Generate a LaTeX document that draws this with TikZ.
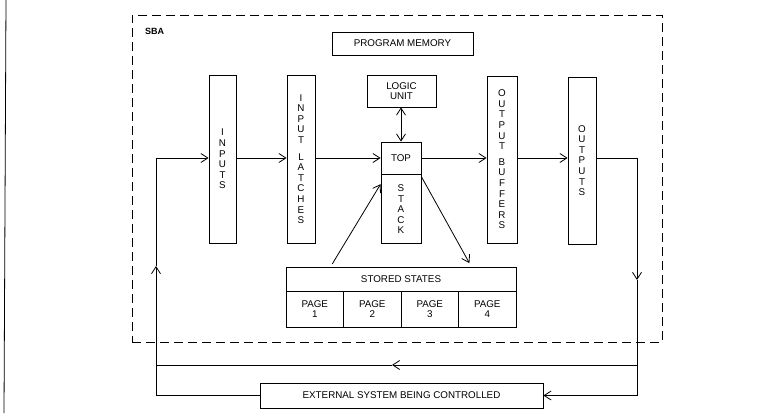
\documentclass[tikz,border=0pt]{standalone}
\usepackage{fontspec}
\setmainfont{Liberation Sans}
\usetikzlibrary{arrows.meta}

\begin{document}
\begin{tikzpicture}[x=1pt, y=-1pt,
  font=\fontsize{9.8}{10.6}\selectfont,
  box/.style = {draw, line width=0.8pt, align=center, inner sep=0pt},
  col/.style = {box, minimum height=168pt},
  arr/.style = {-{Straight Barb[length=7pt,width=9pt]}, line width=0.8pt},
  dbl/.style = {{Straight Barb[length=7pt,width=9pt]}-{Straight Barb[length=7pt,width=9pt]}, line width=0.8pt},
  ln/.style = {line width=0.8pt},
]
\useasboundingbox (0,0) rectangle (774,413);

% page edge of the scan
\draw[ln] (6,0) -- (4,413);

% SBA frame
\node[draw, line width=0.8pt, dash pattern=on 9pt off 5pt,
      minimum width=530pt, minimum height=327pt] at (397,178.5) (sba) {};
\node[font=\fontsize{9}{10}\selectfont\bfseries, anchor=west, inner sep=0pt] at (145,31) (sbalbl) {SBA};

\node[box, minimum width=141pt, minimum height=23pt] at (402.5,43.5) (prog) {PROGRAM MEMORY};

% columns
\node[col, minimum width=27pt] at (222.5,159) (inputs) {I\\N\\P\\U\\T\\S};
\node[col, minimum width=28pt] at (301,159) (latches) {I\\N\\P\\U\\T\\[6pt]L\\A\\T\\C\\H\\E\\S};
\node[box, minimum width=69pt, minimum height=32pt] at (401.5,91) (logic) {LOGIC\\UNIT};
\node[box, minimum width=40pt, minimum height=32pt] at (401,158) (top) {TOP};
\node[box, minimum width=40pt, minimum height=69pt, anchor=north] at (top.south) (stack) {S\\T\\A\\C\\K};
\node[col, minimum width=30pt, minimum height=167pt] at (502,159.5) (buffers) {O\\U\\T\\P\\U\\T\\[5pt]B\\U\\F\\F\\E\\R\\S};
\node[col, minimum width=28pt, minimum height=167pt] at (582,160.5) (outputs) {O\\U\\T\\P\\U\\T\\S};

% stored states
\node[box, minimum width=230pt, minimum height=24pt] at (401,279) (hdr) {STORED STATES};
\foreach \i/\x in {1/314.75, 2/372.25, 3/429.75, 4/487.25} {
  \node[box, minimum width=57.5pt, minimum height=36pt] at (\x,309) (p\i) {PAGE\\\i};
}

\node[box, minimum width=283pt, minimum height=25pt] at (401.5,395.5) (ext) {EXTERNAL SYSTEM BEING CONTROLLED};

% loop coordinates
\coordinate (ltop) at (156,158);
\coordinate (lup) at (156,266);
\coordinate (ljoin) at (156,365);
\coordinate (lbot) at (156,395.5);
\coordinate (rtop) at (637,158);
\coordinate (rdn) at (637,280);
\coordinate (rjoin) at (637,365);
\coordinate (rbot) at (637,395.5);
\coordinate (fbmid) at (392,365);

% main data path
\draw[arr] (inputs.east |- top) -- (latches.west |- top);
\draw[arr] (latches.east |- top) -- (top.west);
\draw[arr] (top.east) -- (buffers.west |- top);
\draw[arr] (buffers.east |- top) -- (outputs.west |- top);
\draw[dbl] (logic.south -| top) -- (top.north);

\draw[arr, shorten <=3pt] (hdr.170.4) -- (stack.129);
\draw[arr, shorten >=4pt] (stack.58) -- (hdr.10);

% outside loop
\draw[arr] (outputs.east |- rtop) -- (rtop) -- (rdn);
\draw[ln] (rdn) -- (rbot);
\draw[arr] (rbot) -- (ext.east);
\draw[arr] (rjoin) -- (fbmid);
\draw[ln] (fbmid) -- (ljoin);
\draw[ln] (ext.west) -- (lbot) -- (ljoin);
\draw[arr] (ljoin) -- (lup);
\draw[arr] (lup) -- (ltop) -- (inputs.west |- ltop);
\end{tikzpicture}
\end{document}
